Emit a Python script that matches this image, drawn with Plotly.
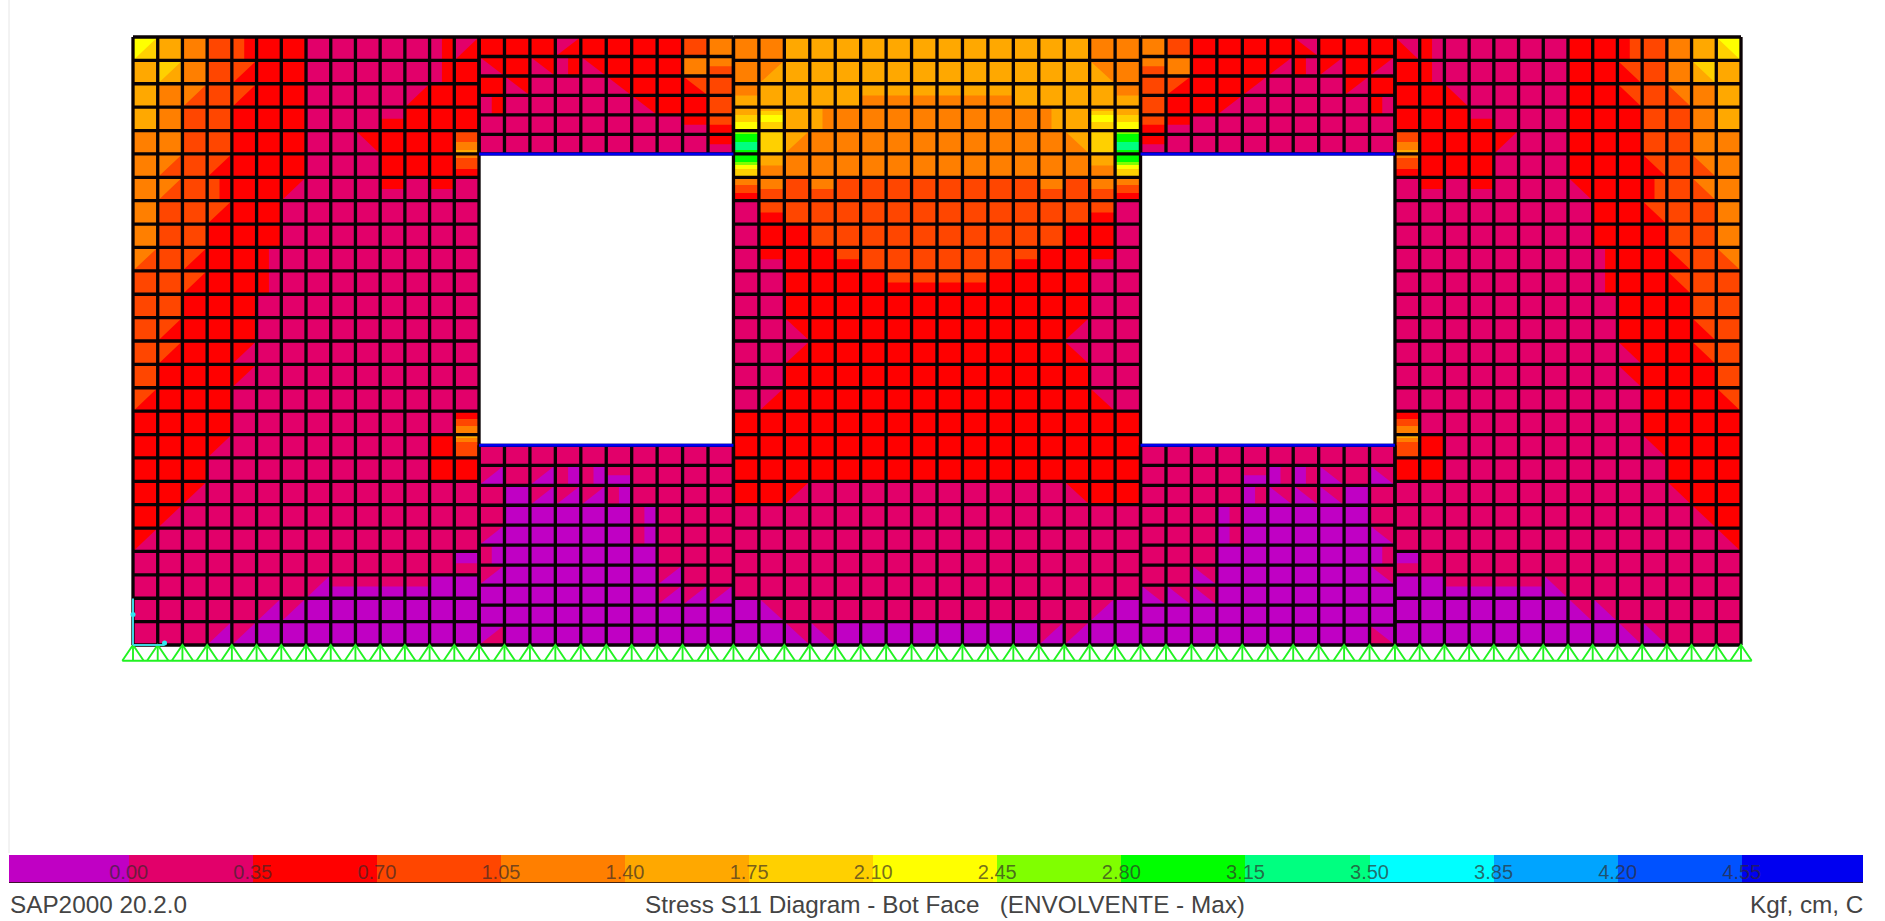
import plotly.graph_objects as go

# ---------- stress scale ----------
STRESS_TICKS = [0.00, 0.35, 0.70, 1.05, 1.40, 1.75, 2.10, 2.45, 2.80, 3.15, 3.50, 3.85, 4.20, 4.55]
TICK_LABELS = ["0.00", "0.35", "0.70", "1.05", "1.40", "1.75", "2.10", "2.45", "2.80", "3.15", "3.50", "3.85", "4.20", "4.55"]
SCALE_MIN, SCALE_MAX = -0.3376, 4.892
BAND_COLORS = ["#C000C4", "#E2006A", "#FF0000", "#FF4600", "#FF7F00", "#FFA800", "#FFD000", "#FFFF00",
               "#80FF00", "#00FF00", "#00FF80", "#00FFFF", "#00A4FF", "#0052FF", "#0000F0"]

# ---------- band index read per cell (0 = below 0.00, 1 = 0.00-0.35, 2 = 0.35-0.70, ...) ----------
PIER = [
    [6, 5, 4, 3, 3, 2, 2, 1, 1, 1, 1, 1, 1, 1],
    [5, 5, 4, 3, 3, 2, 2, 1, 1, 1, 1, 1, 1, 2],
    [5, 4, 4, 3, 2, 2, 2, 1, 1, 1, 1, 1, 2, 2],
    [5, 4, 3, 3, 2, 2, 2, 1, 1, 1, 1, 2, 2, 2],
    [4, 4, 3, 3, 2, 2, 2, 1, 1, 1, 2, 2, 2, 3],
    [4, 4, 3, 3, 2, 2, 2, 1, 1, 1, 2, 2, 2, 3],
    [4, 4, 3, 3, 2, 2, 2, 1, 1, 1, 1, 1, 2, 1],
    [4, 3, 3, 2, 2, 2, 1, 1, 1, 1, 1, 1, 1, 1],
    [4, 3, 3, 2, 2, 2, 1, 1, 1, 1, 1, 1, 1, 1],
    [3, 3, 3, 2, 2, 2, 1, 1, 1, 1, 1, 1, 1, 1],
    [3, 3, 2, 2, 2, 1, 1, 1, 1, 1, 1, 1, 1, 1],
    [3, 3, 2, 2, 2, 1, 1, 1, 1, 1, 1, 1, 1, 1],
    [3, 3, 2, 2, 2, 1, 1, 1, 1, 1, 1, 1, 1, 1],
    [3, 2, 2, 2, 2, 1, 1, 1, 1, 1, 1, 1, 1, 1],
    [3, 2, 2, 2, 1, 1, 1, 1, 1, 1, 1, 1, 1, 1],
    [2, 2, 2, 2, 1, 1, 1, 1, 1, 1, 1, 1, 1, 1],
    [2, 2, 2, 2, 1, 1, 1, 1, 1, 1, 1, 1, 1, 3],
    [2, 2, 2, 1, 1, 1, 1, 1, 1, 1, 1, 1, 2, 3],
    [2, 2, 2, 1, 1, 1, 1, 1, 1, 1, 1, 1, 2, 2],
    [2, 2, 1, 1, 1, 1, 1, 1, 1, 1, 1, 1, 1, 1],
    [2, 1, 1, 1, 1, 1, 1, 1, 1, 1, 1, 1, 1, 1],
    [1, 1, 1, 1, 1, 1, 1, 1, 1, 1, 1, 1, 1, 1],
    [1, 1, 1, 1, 1, 1, 1, 1, 1, 1, 1, 1, 1, 1],
    [1, 1, 1, 1, 1, 1, 1, 1, 1, 1, 1, 1, 0, 0],
    [1, 1, 1, 1, 1, 1, 0, 0, 0, 0, 0, 0, 0, 0],
    [1, 1, 1, 1, 0, 0, 0, 0, 0, 0, 0, 0, 0, 0],
]
MIDDLE = [
    [4, 4, 5, 5, 5, 5, 5, 5, 5, 5, 5, 5, 5, 5, 4, 4],
    [4, 5, 5, 5, 5, 5, 5, 5, 5, 5, 5, 5, 5, 5, 5, 4],
    [5, 5, 5, 5, 5, 5, 5, 5, 5, 5, 5, 5, 5, 5, 5, 5],
    [6, 6, 5, 4, 4, 4, 4, 4, 4, 4, 4, 4, 4, 5, 6, 6],
    [9, 6, 5, 4, 4, 4, 4, 4, 4, 4, 4, 4, 4, 4, 6, 9],
    [8, 5, 4, 4, 4, 4, 4, 4, 4, 4, 4, 4, 4, 4, 5, 8],
    [3, 4, 3, 3, 3, 3, 3, 3, 3, 3, 3, 3, 3, 3, 4, 3],
    [1, 3, 3, 3, 3, 3, 3, 3, 3, 3, 3, 3, 3, 3, 3, 1],
    [1, 2, 2, 3, 3, 3, 3, 3, 3, 3, 3, 3, 3, 2, 2, 1],
    [1, 2, 2, 2, 3, 3, 3, 3, 3, 3, 3, 3, 2, 2, 2, 1],
    [1, 1, 2, 2, 2, 2, 3, 3, 3, 3, 2, 2, 2, 2, 1, 1],
    [1, 1, 2, 2, 2, 2, 2, 2, 2, 2, 2, 2, 2, 2, 1, 1],
    [1, 1, 2, 2, 2, 2, 2, 2, 2, 2, 2, 2, 2, 2, 1, 1],
    [1, 1, 1, 2, 2, 2, 2, 2, 2, 2, 2, 2, 2, 1, 1, 1],
    [1, 1, 2, 2, 2, 2, 2, 2, 2, 2, 2, 2, 2, 2, 1, 1],
    [1, 1, 2, 2, 2, 2, 2, 2, 2, 2, 2, 2, 2, 2, 1, 1],
    [2, 2, 2, 2, 2, 2, 2, 2, 2, 2, 2, 2, 2, 2, 2, 2],
    [2, 2, 2, 2, 2, 2, 2, 2, 2, 2, 2, 2, 2, 2, 2, 2],
    [2, 2, 2, 2, 2, 2, 2, 2, 2, 2, 2, 2, 2, 2, 2, 2],
    [2, 2, 2, 1, 1, 1, 1, 1, 1, 1, 1, 1, 1, 2, 2, 2],
    [1, 1, 1, 1, 1, 1, 1, 1, 1, 1, 1, 1, 1, 1, 1, 1],
    [1, 1, 1, 1, 1, 1, 1, 1, 1, 1, 1, 1, 1, 1, 1, 1],
    [1, 1, 1, 1, 1, 1, 1, 1, 1, 1, 1, 1, 1, 1, 1, 1],
    [1, 1, 1, 1, 1, 1, 1, 1, 1, 1, 1, 1, 1, 1, 1, 1],
    [0, 1, 1, 1, 1, 1, 1, 1, 1, 1, 1, 1, 1, 1, 1, 0],
    [0, 0, 1, 1, 0, 0, 0, 0, 0, 0, 0, 0, 1, 1, 0, 0],
]
TOP_SPANDREL = [
    [2, 2, 2, 2, 2, 2, 2, 2, 3, 4],
    [2, 2, 2, 1, 1, 2, 2, 2, 4, 3],
    [2, 1, 1, 1, 1, 1, 2, 2, 2, 3],
    [2, 1, 1, 1, 1, 1, 1, 2, 2, 3],
    [1, 1, 1, 1, 1, 1, 1, 1, 2, 3],
    [1, 1, 1, 1, 1, 1, 1, 1, 1, 2],
]
BOTTOM_SPANDREL = [
    [1, 1, 1, 1, 1, 1, 1, 1, 1, 1],
    [1, 1, 1, 1, 1, 1, 1, 1, 1, 1],
    [1, 0, 0, 0, 0, 0, 1, 1, 1, 1],
    [1, 0, 0, 0, 0, 0, 0, 1, 1, 1],
    [1, 0, 0, 0, 0, 0, 0, 1, 1, 1],
    [1, 0, 0, 0, 0, 0, 0, 1, 1, 1],
    [0, 0, 0, 0, 0, 0, 0, 0, 1, 1],
    [0, 0, 0, 0, 0, 0, 0, 0, 0, 0],
    [0, 0, 0, 0, 0, 0, 0, 0, 0, 0],
    [0, 0, 0, 0, 0, 0, 0, 0, 0, 0],
]
# cells where the band changes sharply: (block, column, row, bands in strips from top to bottom)
HOT_CELLS = [
    ("mid", 0, 3, [5, 5, 6, 6, 7, 7]),
    ("mid", 0, 4, [8, 9, 9, 10, 10, 9]),
    ("mid", 0, 5, [9, 9, 8, 7, 6, 6]),
    ("mid", 0, 6, [4, 4, 3, 3, 2, 2]),
    ("mid", 15, 3, [5, 5, 6, 6, 7, 7]),
    ("mid", 15, 4, [8, 9, 9, 10, 10, 9]),
    ("mid", 15, 5, [9, 9, 8, 7, 6, 6]),
    ("mid", 15, 6, [4, 4, 3, 3, 2, 2]),
    ("mid", 1, 3, [5, 6, 7, 7, 6, 6]),
    ("mid", 14, 3, [5, 6, 7, 7, 6, 6]),
    ("pier", 13, 4, [3, 3, 3, 4, 4, 5]),
    ("pier", 13, 5, [4, 3, 3, 3, 2, 2]),
    ("pier", 13, 16, [2, 2, 3, 3, 4, 4]),
    ("pier", 13, 17, [5, 4, 3, 3, 3, 3]),
]
# cells crossed by a band boundary: (column, row, second band, part of the cell holding it)
PIER_MIXED = [
    (0, 0, 7, "UL"), (1, 1, 6, "UL"), (1, 5, 3, "LR"), (1, 6, 3, "LR"), (2, 2, 3, "LR"), (4, 0, 2, "R"),
    (4, 1, 2, "LR"), (4, 2, 3, "UL"), (3, 5, 2, "LR"), (3, 6, 2, "R"), (3, 7, 3, "UL"), (2, 9, 2, "LR"),
    (2, 10, 3, "UL"), (0, 9, 4, "UL"), (6, 6, 1, "LR"), (5, 9, 1, "R"), (5, 10, 2, "L"), (12, 0, 2, "R"),
    (13, 0, 2, "LR"), (12, 1, 2, "R"), (11, 2, 2, "LR"), (10, 3, 2, "B"), (9, 4, 2, "UR"), (10, 6, 2, "T"),
    (12, 6, 1, "B"), (1, 12, 2, "LR"), (1, 13, 3, "UL"), (4, 13, 1, "LR"), (4, 14, 2, "UL"), (0, 15, 3, "UL"),
    (3, 17, 2, "UL"), (2, 19, 2, "UL"), (1, 20, 2, "UL"), (0, 21, 2, "UL"), (13, 22, 0, "T"),
    (8, 23, 0, "B"), (9, 23, 0, "B"), (10, 23, 0, "B"), (11, 23, 0, "B"), (7, 23, 0, "LR"), (5, 24, 0, "LR"),
    (3, 25, 0, "LR"), (6, 24, 1, "UL"), (4, 25, 1, "UL"),
]
MIDDLE_MIXED = [
    (0, 2, 4, "T"), (15, 2, 4, "T"), (1, 1, 4, "UL"), (14, 1, 4, "UR"),
    (5, 2, 4, "B"), (6, 2, 4, "B"), (7, 2, 4, "B"), (8, 2, 4, "B"), (9, 2, 4, "B"), (10, 2, 4, "B"),
    (2, 4, 4, "LR"), (13, 4, 5, "UR"), (3, 3, 5, "L"), (12, 3, 5, "R"), (3, 6, 4, "T"), (12, 6, 4, "T"),
    (1, 6, 3, "B"), (14, 6, 3, "B"), (1, 5, 4, "B"), (14, 5, 4, "B"), (1, 7, 2, "B"), (14, 7, 2, "B"),
    (1, 9, 1, "B"), (14, 9, 1, "B"), (4, 9, 2, "B"), (11, 9, 2, "B"),
    (6, 10, 2, "B"), (7, 10, 2, "B"), (8, 10, 2, "B"), (9, 10, 2, "B"),
    (2, 12, 1, "LL"), (13, 12, 1, "LR"), (2, 13, 2, "LR"), (13, 13, 2, "LL"), (1, 15, 2, "LR"), (14, 15, 2, "LL"),
    (2, 19, 1, "LR"), (13, 19, 1, "LL"), (1, 24, 0, "LL"), (14, 24, 0, "LR"),
    (2, 25, 0, "LL"), (3, 25, 0, "LL"), (12, 25, 0, "LR"), (13, 25, 0, "LR"),
]
TOP_MIXED = [
    (0, 1, 1, "LL"), (3, 0, 1, "UL"), (2, 1, 1, "LL"), (3, 1, 2, "R"), (4, 1, 2, "UR"), (1, 2, 2, "UR"),
    (5, 2, 2, "UR"), (0, 3, 1, "L"), (6, 3, 2, "UR"), (8, 2, 3, "UR"), (9, 1, 4, "T"), (9, 4, 2, "B"),
    (9, 5, 1, "B"), (8, 4, 1, "B"),
]
BOTTOM_MIXED = [
    (0, 1, 0, "LR"), (2, 1, 0, "LR"), (3, 1, 0, "R"), (4, 1, 0, "R"), (5, 1, 0, "B"), (2, 2, 1, "UL"),
    (3, 2, 1, "UL"), (4, 2, 1, "UL"), (5, 2, 1, "L"), (0, 4, 0, "LR"), (0, 5, 0, "R"), (6, 3, 1, "L"),
    (6, 4, 1, "L"), (7, 6, 1, "UL"), (7, 7, 1, "UL"), (8, 7, 1, "UL"), (9, 7, 1, "UL"), (0, 6, 1, "UL"),
    (0, 9, 1, "LR"),
]

# ---------- wall geometry (metres) ----------
PIER_W, OPEN_W, MID_W = 3.4, 2.5, 4.0
WALL_H, OPEN_TOP, OPEN_BOT = 6.0, 4.846, 1.97
X0, X1, X2, X3, X4, X5 = 0, PIER_W, PIER_W + OPEN_W, PIER_W + OPEN_W + MID_W, PIER_W + 2 * OPEN_W + MID_W, 2 * PIER_W + 2 * OPEN_W + MID_W


def edges(a, b, n):
    return [a + (b - a) * i / n for i in range(n + 1)]


def mid(i):
    lo = STRESS_TICKS[0] - 0.35 + 0.35 * i
    return lo + 0.175


# page mapping
W, H = 1885, 921
PX_X, PX_Y = 1608 / X5, 608 / WALL_H
LEFT_PX, BOTTOM_PX = 133, 645

zmin, zmax = -0.35, 4.90
colorscale = []
for i, c in enumerate(BAND_COLORS):
    a, b = i / 15, (i + 1) / 15
    colorscale += [[a, c], [b, c]]


def heat(x_edges, y_edges, bands, xa="x", ya="y"):
    z = [[mid(v) for v in row] for row in bands[::-1]]
    return go.Heatmap(x=x_edges, y=y_edges, z=z, zmin=zmin, zmax=zmax, colorscale=colorscale, showscale=False,
                      hoverinfo="skip", xaxis=xa, yaxis=ya)


fig = go.Figure()
pier_y = edges(0, WALL_H, 26)
xL, xM, xR = edges(X0, X1, 14), edges(X2, X3, 16), edges(X4, X5, 14)
xS1, xS2 = edges(X1, X2, 10), edges(X3, X4, 10)
yT, yB = edges(OPEN_TOP, WALL_H, 6), edges(0, OPEN_BOT, 10)
mirror = lambda m: [r[::-1] for r in m]

fig.add_trace(heat(xL, pier_y, PIER))
fig.add_trace(heat(xM, pier_y, MIDDLE))
fig.add_trace(heat(xR, pier_y, mirror(PIER)))
fig.add_trace(heat(xS1, yT, TOP_SPANDREL))
fig.add_trace(heat(xS2, yT, mirror(TOP_SPANDREL)))
fig.add_trace(heat(xS1, yB, BOTTOM_SPANDREL))
fig.add_trace(heat(xS2, yB, mirror(BOTTOM_SPANDREL)))

# parts of a cell (unit square, y up)
PARTS = {
    "UL": [(0, 1), (1, 1), (0, 0)], "UR": [(0, 1), (1, 1), (1, 0)],
    "LL": [(0, 1), (0, 0), (1, 0)], "LR": [(1, 1), (1, 0), (0, 0)],
    "T": [(0, 1), (1, 1), (1, 0.5), (0, 0.5)], "B": [(0, 0.5), (1, 0.5), (1, 0), (0, 0)],
    "L": [(0, 1), (0.5, 1), (0.5, 0), (0, 0)], "R": [(0.5, 1), (1, 1), (1, 0), (0.5, 0)],
}
FLIP = {"UL": "UR", "UR": "UL", "LL": "LR", "LR": "LL", "T": "T", "B": "B", "L": "R", "R": "L"}
polys = {}


def add_part(xs, ys, col, row, band, part):
    n = len(ys) - 1
    x0, x1 = xs[col], xs[col + 1]
    y0, y1 = ys[n - 1 - row], ys[n - row]
    px, py = polys.setdefault(band, ([], []))
    for u, v in PARTS[part]:
        px.append(x0 + (x1 - x0) * u)
        py.append(y0 + (y1 - y0) * v)
    px.append(None)
    py.append(None)


for c, r, b, p in PIER_MIXED:
    add_part(xL, pier_y, c, r, b, p)
    add_part(xR, pier_y, 13 - c, r, b, FLIP[p])
for c, r, b, p in MIDDLE_MIXED:
    add_part(xM, pier_y, c, r, b, p)
for c, r, b, p in TOP_MIXED:
    add_part(xS1, yT, c, r, b, p)
    add_part(xS2, yT, 9 - c, r, b, FLIP[p])
for c, r, b, p in BOTTOM_MIXED:
    add_part(xS1, yB, c, r, b, p)
    add_part(xS2, yB, 9 - c, r, b, FLIP[p])
for b, (px, py) in polys.items():
    fig.add_trace(go.Scatter(x=px, y=py, mode="lines", fill="toself", fillcolor=BAND_COLORS[b], line=dict(width=0),
                             hoverinfo="skip"))

# sharply graded cells
for block, col, row, strips in HOT_CELLS:
    xs = xL if block == "pier" else xM
    top = pier_y[26 - row]
    bot = pier_y[25 - row]
    y_e = edges(bot, top, len(strips))
    fig.add_trace(heat([xs[col], xs[col + 1]], y_e, [[s] for s in strips]))
    if block == "pier":
        fig.add_trace(heat([xR[13 - col], xR[14 - col]], y_e, [[s] for s in strips]))

# mesh lines
BLACK = "#0a0205"
lx, ly = [], []


def seg(x0, y0, x1, y1):
    lx.extend([x0, x1, None])
    ly.extend([y0, y1, None])


for xs, y0, y1 in [(xL, 0, WALL_H), (xM, 0, WALL_H), (xR, 0, WALL_H),
                   (xS1, OPEN_TOP, WALL_H), (xS2, OPEN_TOP, WALL_H), (xS1, 0, OPEN_BOT), (xS2, 0, OPEN_BOT)]:
    for x in xs:
        seg(x, y0, x, y1)
for xs, ys in [(xL, pier_y), (xM, pier_y), (xR, pier_y), (xS1, yT), (xS2, yT), (xS1, yB), (xS2, yB)]:
    for y in ys:
        seg(xs[0], y, xs[-1], y)
fig.add_trace(go.Scatter(x=lx, y=ly, mode="lines", line=dict(color=BLACK, width=3.3), hoverinfo="skip", cliponaxis=False))

# opening edges
fig.add_trace(go.Scatter(x=[X1, X2, None, X1, X2, None, X3, X4, None, X3, X4],
                         y=[OPEN_TOP, OPEN_TOP, None, OPEN_BOT, OPEN_BOT, None, OPEN_TOP, OPEN_TOP, None, OPEN_BOT, OPEN_BOT],
                         mode="lines", line=dict(color="#0000F0", width=3), hoverinfo="skip"))

# supports
nodes = xL + xS1[1:] + xM[1:] + xS2[1:] + xR[1:]
SUP_H, SUP_HALF = 0.155, 0.105
sx, sy = [], []
for n in nodes:
    sx += [n - SUP_HALF, n, n + SUP_HALF, None, n, n, None]
    sy += [-SUP_H, 0, -SUP_H, None, 0, -SUP_H, None]
sx += [nodes[0] - SUP_HALF, nodes[-1] + SUP_HALF]
sy += [-SUP_H, -SUP_H]
fig.add_trace(go.Scatter(x=sx, y=sy, mode="lines", line=dict(color="#22F222", width=1.9), hoverinfo="skip"))

# origin axes glyph
fig.add_trace(go.Scatter(x=[0, 0, None, 0, 0.31], y=[0.46, 0, None, 0, 0], mode="lines",
                         line=dict(color="#3CD8E0", width=2), hoverinfo="skip"))
fig.add_trace(go.Scatter(x=[0, 0.31], y=[0.3, 0.02], mode="markers", marker=dict(color="#30E8F0", size=5), hoverinfo="skip"))

# colour scale strip
bar_edges = [SCALE_MIN] + STRESS_TICKS + [SCALE_MAX]
fig.add_trace(go.Heatmap(x=bar_edges, y=[0, 1], z=[[mid(i) for i in range(15)]], zmin=zmin, zmax=zmax,
                         colorscale=colorscale, showscale=False, hoverinfo="skip", xaxis="x2", yaxis="y2"))
fig.add_trace(go.Scatter(x=[SCALE_MIN, SCALE_MAX], y=[0.0, 0.0], mode="lines", line=dict(color="rgba(40,20,20,0.85)", width=2),
                         xaxis="x2", yaxis="y2", hoverinfo="skip", cliponaxis=False))
fig.add_trace(go.Scatter(x=STRESS_TICKS, y=[0.32] * len(STRESS_TICKS), text=TICK_LABELS, mode="text",
                         textfont=dict(family="Liberation Sans", size=20, color="rgba(50,40,40,0.68)"),
                         xaxis="x2", yaxis="y2", hoverinfo="skip", cliponaxis=False))

TXT = dict(family="Liberation Sans", size=24.3, color="#444444")
fig.update_layout(
    width=W, height=H, margin=dict(l=0, r=0, t=0, b=0), paper_bgcolor="white", plot_bgcolor="white", showlegend=False,
    xaxis=dict(domain=[0, 1], range=[-LEFT_PX / PX_X, (W - LEFT_PX) / PX_X], visible=False, fixedrange=True),
    yaxis=dict(domain=[0, 1], range=[(BOTTOM_PX - H) / PX_Y, BOTTOM_PX / PX_Y], visible=False, fixedrange=True),
    xaxis2=dict(domain=[9 / W, 1863 / W], range=[SCALE_MIN, SCALE_MAX], visible=False, anchor="y2", fixedrange=True),
    yaxis2=dict(domain=[(H - 883) / H, (H - 855) / H], range=[0, 1], visible=False, anchor="x2", fixedrange=True),
    shapes=[dict(type="line", xref="paper", yref="paper", x0=9 / W, x1=9 / W, y0=(H - 853) / H, y1=1,
                 line=dict(color="#e6e6e6", width=1))],
    annotations=[
        dict(text="SAP2000 20.2.0", xref="paper", yref="paper", x=8 / W, y=(H - 904) / H, xanchor="left", yanchor="middle",
             showarrow=False, font=TXT),
        dict(text="Stress S11 Diagram - Bot Face &nbsp; (ENVOLVENTE - Max)", xref="paper", yref="paper", x=945 / W, y=(H - 904) / H,
             xanchor="center", yanchor="middle", showarrow=False, font=TXT),
        dict(text="Kgf, cm, C", xref="paper", yref="paper", x=1865 / W, y=(H - 904) / H, xanchor="right", yanchor="middle",
             showarrow=False, font=TXT),
    ],
)

fig.write_html("out.html", post_script="document.body.style.margin='0';", config=dict(displayModeBar=False))
